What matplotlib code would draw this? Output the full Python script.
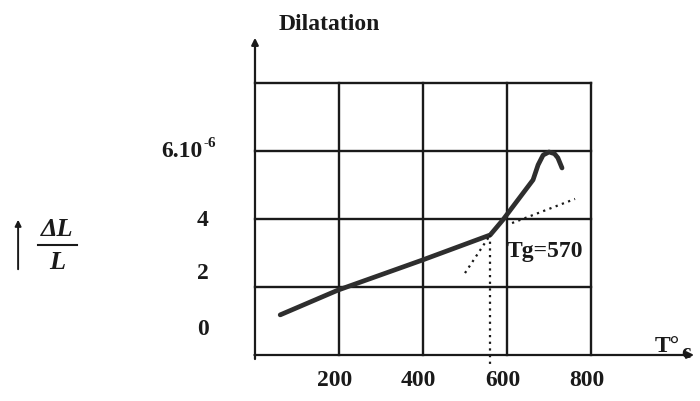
import matplotlib
matplotlib.use('Agg')
import matplotlib.pyplot as plt

# dilatation curve (T in degC, dL/L in 1e-6)
temp = [60, 198, 398, 560, 590, 662, 674, 686, 700, 713, 721, 731]
dil = [1.18, 1.91, 2.79, 3.53, 3.97, 5.15, 5.59, 5.88, 5.97, 5.92, 5.80, 5.50]

# dotted tangents and Tg marker
tan_low_t = [500, 560]
tan_low_d = [2.41, 3.53]
tan_high_t = [612, 762]
tan_high_d = [3.88, 4.59]
tg_pos = 560
tg_label = 'Tg=570'

grid_x = [200, 400, 600, 800]
grid_y = [2, 4, 6, 8]
x_ticks = [200, 400, 600, 800]
y_ticks = [0, 2, 4, 6]
y_labels = ['0', '2', '4', '6.10']

plt.rcParams['font.family'] = 'Liberation Serif'

fig = plt.figure(figsize=(7, 4.01), dpi=100)
ax = fig.add_axes([0, 0, 1, 1])
ax.set_xlim(-607.1, 1059.5)
ax.set_ylim(-1.353, 10.44)
ax.axis('off')

# grid box
for gx in grid_x:
    ax.plot([gx, gx], [0, 8], color='#1a1a1a', lw=1.7)
for gy in grid_y:
    ax.plot([0, 800], [gy, gy], color='#1a1a1a', lw=1.7)

# axes with arrows
ax.annotate('', xy=(0, 9.41), xytext=(0, -0.2),
            arrowprops=dict(arrowstyle='-|>', lw=1.6, color='#1a1a1a', mutation_scale=10))
ax.annotate('', xy=(1052, 0), xytext=(-8, 0),
            arrowprops=dict(arrowstyle='-|>', lw=1.6, color='#1a1a1a', mutation_scale=10))

# curve and construction lines
ax.plot(temp, dil, color='#2e2e2e', lw=3.4, solid_capstyle='round', solid_joinstyle='round')
ax.plot(tan_low_t, tan_low_d, color='#1a1a1a', lw=1.6, ls=(0, (1, 2)))
ax.plot(tan_high_t, tan_high_d, color='#1a1a1a', lw=1.6, ls=(0, (1, 2)))
ax.plot([tg_pos, tg_pos], [dil[3], -0.38], color='#1a1a1a', lw=1.6, ls=(0, (1, 2)))

bold = dict(fontweight='bold', color='#1a1a1a')
ax.text(600, 3.03, tg_label, fontsize=17, va='center', ha='left', **bold)
ax.text(176, 9.71, 'Dilatation', fontsize=17, ha='center', va='center', **bold)
ax.text(982, 0.24, 'T°', fontsize=17, ha='center', va='center', **bold)
ax.text(1026, 0.05, 'c', fontsize=15, ha='center', va='center', **bold)

for t in x_ticks:
    ax.text(t - 10, -0.76, str(t), fontsize=17, ha='center', va='center', **bold)

label_y = [0.74, 2.41, 3.97, 5.97]
for ly, lab in zip(label_y, y_labels):
    ax.text(-124, ly, lab, fontsize=17, ha='right' if lab == '6.10' else 'center',
            va='center', **bold)
    if lab == '6.10':
        ax.text(-122, 6.22, '-6', fontsize=11, ha='left', va='center', **bold)

# dL/L label on the left
ax.annotate('', xy=(-564, 4.06), xytext=(-564, 2.44),
            arrowprops=dict(arrowstyle='-|>', lw=1.4, color='#1a1a1a', mutation_scale=9))
ax.text(-471, 3.68, 'ΔL', fontsize=19, ha='center', va='center', style='italic', **bold)
ax.plot([-517, -424], [3.24, 3.24], color='#1a1a1a', lw=1.5)
ax.text(-471, 2.71, 'L', fontsize=19, ha='center', va='center', style='italic', **bold)

fig.savefig('out.png', dpi=100)
